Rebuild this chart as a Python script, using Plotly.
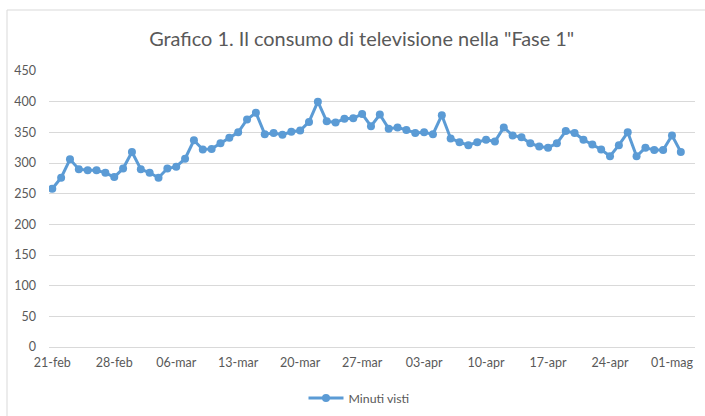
import pandas as pd
import plotly.graph_objects as go

start_date = "2020-02-21"
minuti_visti = [
    258, 276, 306, 290, 288, 288, 284, 277, 291, 318,
    290, 284, 276, 291, 294, 307, 337, 322, 323, 332,
    341, 350, 371, 382, 347, 349, 346, 351, 353, 367,
    400, 368, 366, 372, 373, 380, 360, 379, 356, 358,
    354, 349, 350, 347, 378, 340, 334, 329, 334, 338,
    335, 358, 345, 342, 332, 327, 325, 332, 352, 349,
    338, 330, 322, 311, 329, 350, 311, 325, 321, 321,
    345, 318,
]
tick_dates = ["2020-02-21", "2020-02-28", "2020-03-06", "2020-03-13", "2020-03-20",
              "2020-03-27", "2020-04-03", "2020-04-10", "2020-04-17", "2020-04-24",
              "2020-05-01"]
tick_labels = ["21-feb", "28-feb", "06-mar", "13-mar", "20-mar", "27-mar",
               "03-apr", "10-apr", "17-apr", "24-apr", "01-mag"]
y_ticks = [0, 50, 100, 150, 200, 250, 300, 350, 400, 450]

dates = pd.date_range(start_date, periods=len(minuti_visti), freq="D")
x0 = (pd.Timestamp(start_date) - pd.Timedelta(hours=0.37 * 24)).strftime("%Y-%m-%d %H:%M:%S")
x1 = (pd.Timestamp(start_date) + pd.Timedelta(hours=72.6 * 24)).strftime("%Y-%m-%d %H:%M:%S")

W, H = 705, 416
L, R, T, B = 49, 10, 71, 69
pw, ph = W - L - R, H - T - B

def px_x(p):
    return (p - L) / pw

def px_y(p):
    return (H - B - p) / ph

font = "Lato, 'Open Sans', sans-serif"
grey = "#595959"

fig = go.Figure()
fig.add_trace(go.Scatter(
    x=dates.strftime("%Y-%m-%d"), y=minuti_visti, mode="lines+markers", name="Minuti visti",
    line=dict(color="#5b9bd5", width=3),
    marker=dict(color="#5b9bd5", size=8),
))

fig.update_layout(
    width=W, height=H,
    margin=dict(l=L, r=R, t=T, b=B, autoexpand=False),
    paper_bgcolor="white", plot_bgcolor="white",
    font=dict(family=font, color=grey, size=12.5),
    title=dict(text='Grafico 1. Il consumo di televisione nella "Fase 1"',
               x=361.7 / W, xref="container", xanchor="center",
               y=1 - 39 / H, yref="container", yanchor="middle",
               font=dict(size=19.9, color=grey, family=font)),
    xaxis=dict(type="date", range=[x0, x1], tickvals=tick_dates,
               ticktext=tick_labels, showgrid=False, showline=False,
               zeroline=False, ticks="", ticklabelstandoff=6, automargin=False,
               tickfont=dict(size=12.5, color=grey)),
    yaxis=dict(range=[0, 450], tickvals=y_ticks, showgrid=True,
               gridcolor="#d9d9d9", gridwidth=1, zeroline=True,
               zerolinecolor="#d9d9d9", zerolinewidth=1, showline=False,
               ticks="", ticklabelstandoff=12, automargin=False,
               tickfont=dict(size=12.5, color=grey)),
    showlegend=True,
    legend=dict(orientation="h", x=0.5 - 13 / pw, xanchor="center",
                y=px_y(398), yanchor="middle",
                font=dict(size=12.3, color=grey), itemwidth=35),
    shapes=[dict(type="rect", xref="paper", yref="paper",
                 x0=px_x(7), x1=px_x(720), y0=px_y(430), y1=px_y(10),
                 line=dict(color="#d9d9d9", width=1), layer="below")],
)

fig.write_html("out.html", config={"displayModeBar": False},
               post_script="document.body.style.margin='0';document.body.style.overflow='hidden';")
